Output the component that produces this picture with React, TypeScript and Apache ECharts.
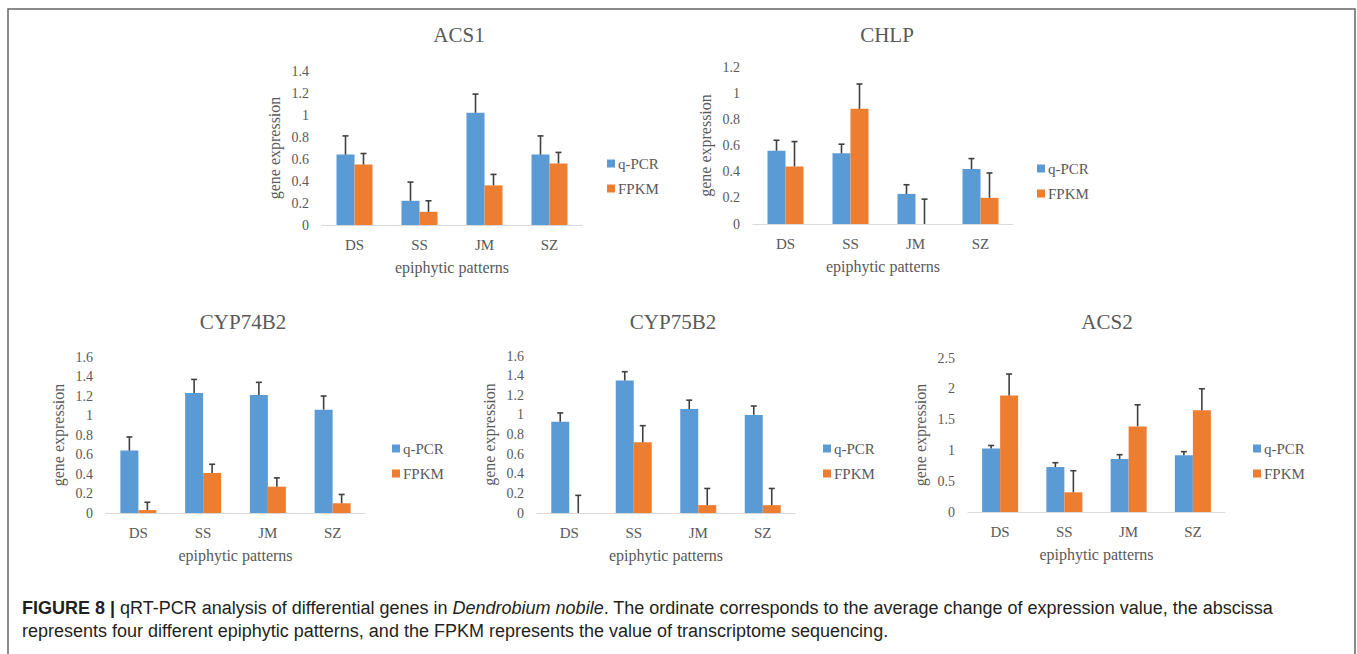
import React, { useEffect, useRef } from "react";
import * as echarts from "echarts";

const categories = ["DS", "SS", "JM", "SZ"];
const seriesNames = ["q-PCR", "FPKM"];

const titles = ["ACS1", "CHLP", "CYP74B2", "CYP75B2", "ACS2"];

const acs1Qpcr = [0.64, 0.22, 1.02, 0.64];
const acs1QpcrErr = [0.17, 0.17, 0.17, 0.17];
const acs1Fpkm = [0.55, 0.12, 0.36, 0.56];
const acs1FpkmErr = [0.1, 0.1, 0.1, 0.1];

const chlpQpcr = [0.56, 0.54, 0.23, 0.42];
const chlpQpcrErr = [0.08, 0.07, 0.07, 0.08];
const chlpFpkm = [0.44, 0.88, 0, 0.2];
const chlpFpkmErr = [0.19, 0.19, 0.19, 0.19];

const cyp74Qpcr = [0.64, 1.23, 1.21, 1.06];
const cyp74QpcrErr = [0.14, 0.14, 0.13, 0.14];
const cyp74Fpkm = [0.03, 0.41, 0.27, 0.1];
const cyp74FpkmErr = [0.08, 0.09, 0.09, 0.09];

const cyp75Qpcr = [0.93, 1.35, 1.06, 1.0];
const cyp75QpcrErr = [0.09, 0.09, 0.09, 0.09];
const cyp75Fpkm = [0, 0.72, 0.08, 0.08];
const cyp75FpkmErr = [0.18, 0.17, 0.17, 0.17];

const acs2Qpcr = [1.03, 0.73, 0.86, 0.92];
const acs2QpcrErr = [0.05, 0.07, 0.07, 0.06];
const acs2Fpkm = [1.89, 0.32, 1.39, 1.65];
const acs2FpkmErr = [0.35, 0.35, 0.35, 0.35];

const yMax = [1.4, 1.2, 1.6, 1.6, 2.5];
const yInterval = [0.2, 0.2, 0.2, 0.2, 0.5];

const yAxisName = "gene expression";
const xAxisName = "epiphytic patterns";

const panelData = [
  [acs1Qpcr, acs1QpcrErr, acs1Fpkm, acs1FpkmErr],
  [chlpQpcr, chlpQpcrErr, chlpFpkm, chlpFpkmErr],
  [cyp74Qpcr, cyp74QpcrErr, cyp74Fpkm, cyp74FpkmErr],
  [cyp75Qpcr, cyp75QpcrErr, cyp75Fpkm, cyp75FpkmErr],
  [acs2Qpcr, acs2QpcrErr, acs2Fpkm, acs2FpkmErr],
];

// layout (pixels)
const layout = [
  { left: 322, top: 71, width: 260, height: 154, titleX: 459, titleY: 35, legX: 607, legY: 156 },
  { left: 753, top: 67, width: 260, height: 157, titleX: 887, titleY: 35, legX: 1037, legY: 161 },
  { left: 106, top: 357, width: 259, height: 156, titleX: 243, titleY: 322, legX: 392, legY: 441 },
  { left: 537, top: 356, width: 258, height: 157, titleX: 673, titleY: 322, legX: 823, legY: 441 },
  { left: 968, top: 358, width: 257, height: 154, titleX: 1107, titleY: 322, legX: 1253, legY: 441 },
];

const BLUE = "#5B9BD5";
const ORANGE = "#ED7D31";
const GRAY = "#595959";
const SERIF = "Liberation Serif";
const SANS = "Liberation Sans";
const BAR_W = 18;

function errorRender(offset: number) {
  return (params: any, api: any) => {
    const idx = api.value(0);
    const v = api.value(1);
    const e = api.value(2);
    const p0 = api.coord([idx, v]);
    const p1 = api.coord([idx, v + e]);
    const x = p0[0] + offset;
    const style = { stroke: "#404040", lineWidth: 1.6 };
    return {
      type: "group",
      children: [
        { type: "line", shape: { x1: x, y1: p0[1], x2: x, y2: p1[1] }, style },
        { type: "line", shape: { x1: x - 3, y1: p1[1], x2: x + 3, y2: p1[1] }, style },
      ],
    };
  };
}

export default function App() {
  const ref = useRef<HTMLDivElement>(null);
  useEffect(() => {
    if (!ref.current) return;
    const chart = echarts.init(ref.current, undefined, { renderer: "svg" });

    const grid: any[] = [];
    const xAxis: any[] = [];
    const yAxis: any[] = [];
    const legend: any[] = [];
    const series: any[] = [];
    const graphicEls: any[] = [];

    layout.forEach((L, i) => {
      const [q, qe, f, fe] = panelData[i];
      grid.push({ left: L.left, top: L.top, width: L.width, height: L.height, containLabel: false });
      xAxis.push({
        type: "category",
        gridIndex: i,
        data: categories,
        axisLine: { lineStyle: { color: "#D9D9D9", width: 1.2 } },
        axisTick: { show: false },
        axisLabel: { color: GRAY, fontFamily: SERIF, fontSize: 15, margin: 12 },
        name: xAxisName,
        nameLocation: "middle",
        nameGap: 34,
        nameTextStyle: { color: GRAY, fontFamily: SERIF, fontSize: 16 },
      });
      yAxis.push({
        type: "value",
        gridIndex: i,
        min: 0,
        max: yMax[i],
        interval: yInterval[i],
        axisLine: { show: false },
        axisTick: { show: false },
        splitLine: { show: false },
        axisLabel: { color: GRAY, fontFamily: SERIF, fontSize: 14, margin: 13 },
        name: yAxisName,
        nameLocation: "middle",
        nameGap: 40,
        nameTextStyle: { color: GRAY, fontFamily: SERIF, fontSize: 16 },
      });
      legend.push({
        orient: "vertical",
        left: L.legX,
        top: L.legY,
        padding: 0,
        itemGap: 10,
        itemWidth: 8,
        itemHeight: 8,
        icon: "rect",
        data: seriesNames,
        textStyle: { color: GRAY, fontFamily: SERIF, fontSize: 15, padding: [0, 0, 0, -2] },
      });
      series.push({
        type: "bar",
        name: seriesNames[0],
        xAxisIndex: i,
        yAxisIndex: i,
        data: q,
        barWidth: BAR_W,
        barGap: "0%",
        itemStyle: { color: BLUE },
      });
      series.push({
        type: "bar",
        name: seriesNames[1],
        xAxisIndex: i,
        yAxisIndex: i,
        data: f,
        barWidth: BAR_W,
        barGap: "0%",
        itemStyle: { color: ORANGE },
      });
      series.push({
        type: "custom",
        name: seriesNames[0] + " error",
        xAxisIndex: i,
        yAxisIndex: i,
        z: 5,
        renderItem: errorRender(-BAR_W / 2),
        data: q.map((v, k) => [k, v, qe[k]]),
      });
      series.push({
        type: "custom",
        name: seriesNames[1] + " error",
        xAxisIndex: i,
        yAxisIndex: i,
        z: 5,
        renderItem: errorRender(BAR_W / 2),
        data: f.map((v, k) => [k, v, fe[k]]),
      });
      graphicEls.push({
        type: "text",
        x: L.titleX,
        y: L.titleY,
        style: {
          text: titles[i],
          align: "center",
          verticalAlign: "middle",
          fill: GRAY,
          fontFamily: SERIF,
          fontSize: 21,
        },
      });
    });

    graphicEls.push({
      type: "rect",
      shape: { x: 8, y: 9, width: 1347, height: 700 },
      style: { fill: "none", stroke: "#666666", lineWidth: 1.5 },
      z: -1,
    });
    graphicEls.push({
      type: "text",
      x: 22,
      y: 608,
      style: {
        text: "{b|FIGURE 8 |} qRT-PCR analysis of differential genes in {i|Dendrobium nobile}. The ordinate corresponds to the average change of expression value, the abscissa",
        verticalAlign: "middle",
        fill: "#231F20",
        fontFamily: SANS,
        fontSize: 18,
        rich: {
          b: { fontWeight: "bold", fontFamily: SANS, fontSize: 18, fill: "#231F20" },
          i: { fontStyle: "italic", fontFamily: SANS, fontSize: 18, fill: "#231F20" },
        },
      },
    });
    graphicEls.push({
      type: "text",
      x: 22,
      y: 631,
      style: {
        text: "represents four different epiphytic patterns, and the FPKM represents the value of transcriptome sequencing.",
        verticalAlign: "middle",
        fill: "#231F20",
        fontFamily: SANS,
        fontSize: 18,
      },
    });

    chart.setOption({
      animation: false,
      backgroundColor: "#ffffff",
      grid,
      xAxis,
      yAxis,
      legend,
      series,
      graphic: { elements: graphicEls },
    });
    return () => chart.dispose();
  }, []);

  return (
    <div
      ref={ref}
      style={{ position: "fixed", left: 0, top: 0, width: 1357, height: 654, background: "#fff" }}
    />
  );
}
